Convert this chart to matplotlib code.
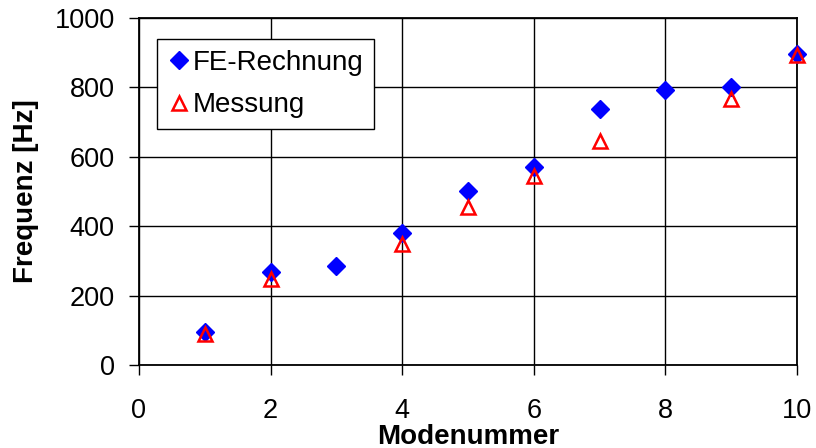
import matplotlib
matplotlib.use("Agg")
import matplotlib.pyplot as plt

# Eigenfrequencies per mode: FE calculation vs. measurement
modes_fe = [1, 2, 3, 4, 5, 6, 7, 8, 9, 10]
freq_fe = [96, 267, 286, 381, 502, 572, 737, 792, 800, 896]

modes_mess = [1, 2, 4, 5, 6, 7, 9, 10]
freq_mess = [89, 247, 349, 456, 545, 646, 767, 892]

x_ticks = [0, 2, 4, 6, 8, 10]
y_ticks = [0, 200, 400, 600, 800, 1000]

plt.rcParams["font.family"] = ["Liberation Sans", "DejaVu Sans"]

fig = plt.figure(figsize=(8.16, 4.48), dpi=100)
ax = fig.add_axes([139 / 816, 1 - 365 / 448, (797 - 139) / 816, (365 - 18) / 448])

ax.plot(modes_fe, freq_fe, linestyle="none", marker="D", markersize=9.5,
        color="#0000ff", markeredgecolor="#0000ff", label="FE-Rechnung",
        zorder=3, clip_on=False)
ax.plot(modes_mess, freq_mess, linestyle="none", marker="^", markersize=9.5,
        markerfacecolor="none", markeredgecolor="#ff0000", markeredgewidth=1.8,
        label="Messung", zorder=4, clip_on=False)

ax.set_xlim(0, 10)
ax.set_ylim(0, 1000)
ax.set_xticks(x_ticks)
ax.set_yticks(y_ticks)
ax.grid(True, color="black", linewidth=1.0)
ax.set_axisbelow(True)

for sp in ax.spines.values():
    sp.set_linewidth(1.3)
    sp.set_color("black")

ax.tick_params(axis="both", direction="out", length=7.5, width=1.0, labelsize=19.5)
ax.tick_params(axis="x", pad=16)
ax.tick_params(axis="y", pad=10)

ax.set_xlabel("Modenummer", fontsize=20, fontweight="bold", labelpad=0)
ax.set_ylabel("Frequenz [Hz]", fontsize=20, fontweight="bold", labelpad=11)

leg = ax.legend(loc="upper left", bbox_to_anchor=(18 / 658, 1 - 21 / 347),
                fontsize=20, frameon=True, fancybox=False, shadow=False,
                edgecolor="black", framealpha=1.0, borderpad=0.38,
                handletextpad=0.1, handlelength=0.8, labelspacing=0.6,
                borderaxespad=0)
leg.get_frame().set_linewidth(1.0)

fig.savefig("out.png", dpi=100)
